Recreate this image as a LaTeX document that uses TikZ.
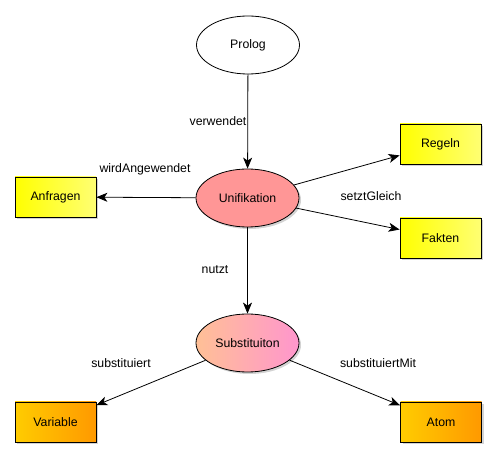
\documentclass[tikz,border=0pt]{standalone}
\usepackage{fontspec}
\setmainfont{Liberation Sans}
\usetikzlibrary{shapes.geometric,arrows.meta,shadows}

\begin{document}
\begin{tikzpicture}[x=1pt,y=-1pt,font=\fontsize{12.3}{14}\selectfont]
\tikzstyle{main}=[ellipse, minimum width=103pt, minimum height=58pt, inner sep=0pt, draw=black, line width=0.8pt]
\tikzstyle{box}=[rectangle, minimum width=81pt, minimum height=40pt, inner sep=0pt, draw=black, line width=0.8pt, drop shadow={shadow xshift=2pt, shadow yshift=-2pt, opacity=0.35}]
\tikzstyle{yellowbox}=[box, left color=yellow, right color=yellow!55!white]
\tikzstyle{orangebox}=[box, left color={rgb,255:red,255;green,204;blue,0}, right color={rgb,255:red,255;green,153;blue,0}]
\tikzstyle{connect}=[-{Stealth[length=11pt,width=9pt,inset=3pt]}, line width=0.8pt]
\tikzstyle{lbl}=[inner sep=1pt]

\useasboundingbox (0,0) rectangle (496,457);

\node[main, fill=white] at (248,45) (prolog) {Prolog};
\node[main, fill={rgb,255:red,255;green,150;blue,150}, drop shadow={shadow xshift=2pt, shadow yshift=-2pt, opacity=0.35}] at (247.5,198) (unifikation) {Unifikation};
\node[main, left color={rgb,255:red,255;green,192;blue,150}, right color={rgb,255:red,255;green,150;blue,205}, drop shadow={shadow xshift=2pt, shadow yshift=-2pt, opacity=0.35}] at (247.5,343) (substitution) {Substituiton};

\node[yellowbox] at (55.5,197) (anfragen) {Anfragen};
\node[yellowbox] at (440.5,144) (regeln) {Regeln};
\node[yellowbox] at (440.5,238) (fakten) {Fakten};
\node[orangebox] at (55.5,422) (variable) {Variable};
\node[orangebox] at (441,422) (atom) {Atom};

\path (prolog) edge [connect] (unifikation);
\path (unifikation) edge [connect] (anfragen);
\path (unifikation) edge [connect] (regeln);
\path (unifikation) edge [connect] (fakten);
\path (unifikation) edge [connect] (substitution);
\path (substitution) edge [connect] (variable);
\path (substitution) edge [connect] (atom);

\node[lbl] at (218,121) (lverwendet) {verwendet};
\node[lbl] at (145,169) (lwird) {wirdAngewendet};
\node[lbl] at (371,196) (lsetzt) {setztGleich};
\node[lbl] at (215,270) (lnutzt) {nutzt};
\node[lbl] at (121,363) (lsubst) {substituiert};
\node[lbl] at (378,363) (lsubstmit) {substituiertMit};
\end{tikzpicture}
\end{document}
